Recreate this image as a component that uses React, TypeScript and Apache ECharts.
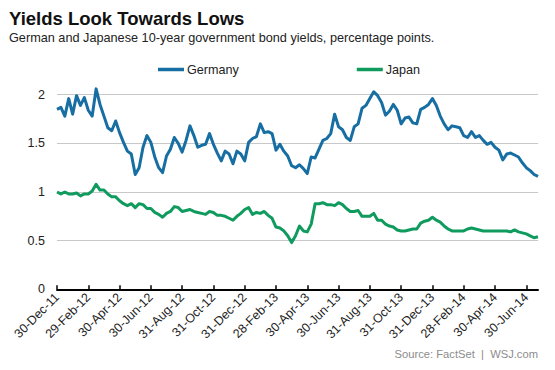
import React, { useEffect, useRef } from "react";
import * as echarts from "echarts";

const tickLabels = [
  "30-Dec-11", "29-Feb-12", "30-Apr-12", "30-Jun-12", "31-Aug-12", "31-Oct-12",
  "31-Dec-12", "28-Feb-13", "30-Apr-13", "30-Jun-13", "31-Aug-13", "31-Oct-13",
  "31-Dec-13", "28-Feb-14", "30-Apr-14", "30-Jun-14",
];

const germany = [
  1.85, 1.87, 1.78, 1.96, 1.80, 1.99, 1.89, 1.97, 1.84, 1.78,
  2.06, 1.90, 1.78, 1.66, 1.63, 1.73, 1.61, 1.51, 1.42, 1.39,
  1.18, 1.25, 1.46, 1.58, 1.51, 1.36, 1.25, 1.20, 1.37, 1.44,
  1.56, 1.50, 1.41, 1.53, 1.68, 1.58, 1.46, 1.48, 1.49, 1.60,
  1.49, 1.40, 1.32, 1.42, 1.39, 1.29, 1.42, 1.39, 1.32, 1.51,
  1.55, 1.57, 1.70, 1.61, 1.62, 1.60, 1.43, 1.49, 1.42, 1.37,
  1.27, 1.25, 1.28, 1.24, 1.19, 1.36, 1.35, 1.44, 1.53, 1.55,
  1.60, 1.80, 1.67, 1.64, 1.56, 1.53, 1.67, 1.70, 1.86, 1.89,
  1.96, 2.03, 1.99, 1.92, 1.79, 1.83, 1.90, 1.84, 1.70, 1.76,
  1.77, 1.71, 1.70, 1.85, 1.87, 1.90, 1.96, 1.89, 1.78, 1.70,
  1.64, 1.68, 1.67, 1.66, 1.58, 1.56, 1.62, 1.56, 1.58, 1.53,
  1.49, 1.51, 1.46, 1.43, 1.33, 1.39, 1.40, 1.38, 1.36, 1.30,
  1.25, 1.22, 1.18, 1.16,
];

const japan = [
  1.00, 0.98, 1.00, 0.98, 0.98, 0.99, 0.96, 0.98, 0.98, 1.01,
  1.08, 1.02, 1.02, 0.98, 0.95, 0.95, 0.91, 0.88, 0.86, 0.88,
  0.84, 0.88, 0.87, 0.83, 0.83, 0.79, 0.77, 0.74, 0.78, 0.80,
  0.85, 0.84, 0.80, 0.81, 0.82, 0.80, 0.79, 0.78, 0.77, 0.80,
  0.79, 0.76, 0.76, 0.75, 0.73, 0.71, 0.75, 0.78, 0.82, 0.84,
  0.77, 0.79, 0.78, 0.80, 0.76, 0.73, 0.64, 0.63, 0.60, 0.55,
  0.48, 0.55, 0.65, 0.60, 0.59, 0.67, 0.88, 0.88, 0.89, 0.87,
  0.87, 0.86, 0.89, 0.87, 0.83, 0.80, 0.80, 0.81, 0.75, 0.75,
  0.75, 0.78, 0.71, 0.71, 0.67, 0.65, 0.64, 0.61, 0.60, 0.60,
  0.61, 0.62, 0.62, 0.68, 0.70, 0.71, 0.74, 0.71, 0.69, 0.65,
  0.62, 0.60, 0.60, 0.60, 0.60, 0.62, 0.63, 0.62, 0.61, 0.60,
  0.60, 0.60, 0.60, 0.60, 0.60, 0.60, 0.59, 0.61, 0.59, 0.58,
  0.57, 0.55, 0.53, 0.54,
];

const STEP = 8;
const FONT = '"Liberation Sans", Arial, sans-serif';

export default function App() {
  const ref = useRef<HTMLDivElement>(null);
  useEffect(() => {
    if (!ref.current) return;
    const chart = echarts.init(ref.current, null, { renderer: "svg" });
    const cats = germany.map((_, i) => String(i));
    const showTick = (i: number) => i % STEP === 0;
    chart.setOption({
      animation: false,
      backgroundColor: "#ffffff",
      textStyle: { fontFamily: FONT },
      graphic: [
        {
          type: "text",
          left: 9,
          top: 8.5,
          style: { text: "Yields Look Towards Lows", font: `bold 18.5px ${FONT}`, fill: "#111" },
        },
        {
          type: "text",
          left: 9,
          top: 31.5,
          style: {
            text: "German and Japanese 10-year government bond yields, percentage points.",
            font: `12.7px ${FONT}`,
            fill: "#222",
          },
        },
        {
          type: "text",
          right: 17,
          top: 348.5,
          style: { text: "Source: FactSet  |  WSJ.com", font: `11.2px ${FONT}`, fill: "#8c8c8c" },
        },
      ],
      legend: {
        left: 158,
        top: 63,
        padding: 0,
        itemGap: 118,
        itemWidth: 26,
        itemHeight: 3.5,
        icon: "rect",
        textStyle: { fontSize: 12.6, color: "#222", fontFamily: FONT, padding: [0, 0, 0, -2] },
        data: ["Germany", "Japan"],
      },
      grid: { left: 57, right: 17, top: 94.7, bottom: 80.7, containLabel: false },
      xAxis: {
        type: "category",
        boundaryGap: false,
        data: cats,
        axisLine: { show: true, lineStyle: { color: "#000", width: 2 } },
        axisTick: {
          show: true,
          inside: true,
          length: 4,
          interval: (i: number) => showTick(i),
          lineStyle: { color: "#000", width: 1.5 },
        },
        axisLabel: {
          interval: (i: number) => showTick(i),
          formatter: (_v: string, i: number) => tickLabels[i / STEP] ?? "",
          rotate: 45,
          fontSize: 12.5,
          color: "#222",
          fontFamily: FONT,
          margin: 6,
        },
        splitLine: { show: false },
      },
      yAxis: {
        type: "value",
        min: 0,
        max: 2,
        interval: 0.5,
        axisLine: { show: false },
        axisTick: { show: false },
        axisLabel: {
          fontSize: 12.5,
          color: "#222",
          fontFamily: FONT,
          margin: 12,
          formatter: (v: number) => String(v),
        },
        splitLine: { show: true, lineStyle: { color: "#c8c8c8", width: 1.2 } },
      },
      series: [
        {
          name: "Germany",
          type: "line",
          data: germany,
          showSymbol: false,
          symbol: "none",
          clip: false,
          color: "#176ea3",
          lineStyle: { width: 3, color: "#176ea3", join: "round" },
        },
        {
          name: "Japan",
          type: "line",
          data: japan,
          showSymbol: false,
          symbol: "none",
          clip: false,
          color: "#0f9a5e",
          lineStyle: { width: 3, color: "#0f9a5e", join: "round" },
        },
      ],
    });
    return () => chart.dispose();
  }, []);
  return (
    <div
      ref={ref}
      style={{ position: "fixed", left: 0, top: 0, width: 555, height: 370, background: "#fff" }}
    />
  );
}
